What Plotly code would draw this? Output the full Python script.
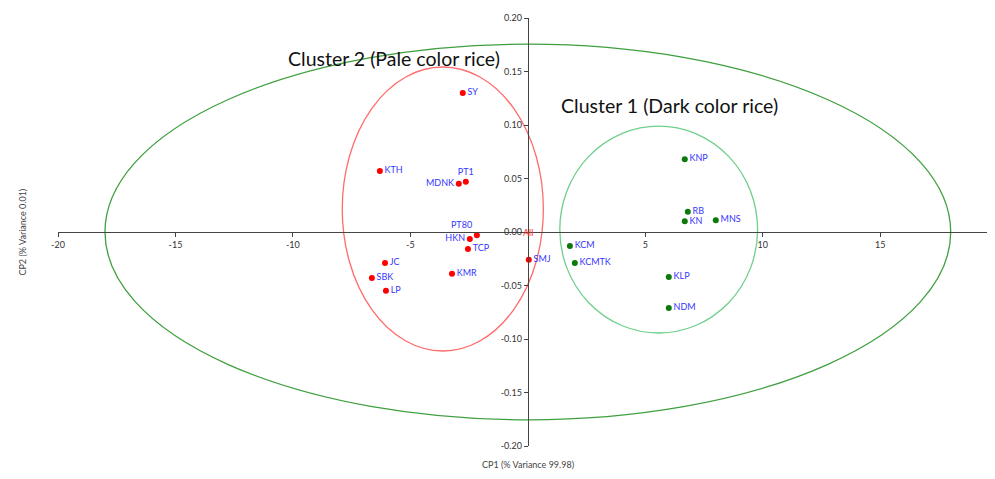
import plotly.graph_objects as go

# Cluster 2 (pale rice) - red points
red_names = ["SY", "KTH", "MDNK", "PT1", "PT80", "HKN", "TCP", "JC", "SBK", "LP", "KMR", "SMJ"]
red_x = [-2.77, -6.30, -2.94, -2.64, -2.17, -2.47, -2.55, -6.08, -6.64, -6.04, -3.23, 0.04]
red_y = [0.130, 0.057, 0.045, 0.047, -0.003, -0.0065, -0.016, -0.029, -0.043, -0.055, -0.039, -0.026]
red_pos = ["middle right", "middle right", "middle left", "top center", "top left", "middle left",
           "middle right", "middle right", "middle right", "middle right", "middle right", "middle right"]

# Cluster 1 (dark rice) - green points
green_names = ["KNP", "RB", "KN", "MNS", "KCM", "KCMTK", "KLP", "NDM"]
green_x = [6.68, 6.81, 6.68, 8.0, 1.79, 2.0, 6.0, 6.0]
green_y = [0.068, 0.019, 0.010, 0.011, -0.013, -0.029, -0.042, -0.071]

# Ellipses: centre x, centre y, semi-axis x, semi-axis y
ell_cx = [0.0, -3.62, 5.57]
ell_cy = [0.0, 0.0215, 0.0023]
ell_ax = [18.0, 4.28, 4.21]
ell_ay = [0.1755, 0.1327, 0.0967]
ell_col = ["#3f9f3f", "#ff6b6b", "#6fcf8a"]

x_ticks = [-20, -15, -10, -5, 5, 10, 15]
y_ticks = [-0.20, -0.15, -0.10, -0.05, 0.00, 0.05, 0.10, 0.15, 0.20]

x_range = [-20, 19.8]
y_range = [-0.2, 0.2]

label_font = dict(family="Lato, sans-serif", size=9, color="#3535ff")

fig = go.Figure()
fig.add_trace(go.Scatter(
    x=red_x, y=red_y, text=red_names, mode="markers+text", textposition=red_pos,
    marker=dict(color="#ff0000", size=6), textfont=label_font, cliponaxis=False,
    showlegend=False, hoverinfo="text"))
fig.add_trace(go.Scatter(
    x=green_x, y=green_y, text=green_names, mode="markers+text", textposition="middle right",
    marker=dict(color="#0a7a0a", size=6), textfont=label_font, cliponaxis=False,
    showlegend=False, hoverinfo="text"))

shapes = []
for cx, cy, ax, ay, col in zip(ell_cx, ell_cy, ell_ax, ell_ay, ell_col):
    shapes.append(dict(type="circle", xref="x", yref="y",
                       x0=cx - ax, x1=cx + ax, y0=cy - ay, y1=cy + ay,
                       line=dict(color=col, width=1.3), layer="below"))

y_pos = (0 - x_range[0]) / (x_range[1] - x_range[0])

fig.update_layout(
    width=987, height=471,
    margin=dict(l=50, r=2, t=10, b=33),
    plot_bgcolor="white", paper_bgcolor="white",
    shapes=shapes,
    xaxis=dict(range=x_range, anchor="free", position=0.5, showgrid=False, zeroline=False,
               automargin=False,
               showline=True, linecolor="#444444", linewidth=1.3,
               tickvals=x_ticks, ticktext=[str(v) for v in x_ticks],
               ticks="outside", ticklen=4, tickcolor="#444444",
               tickfont=dict(family="Lato, sans-serif", size=9, color="#333333")),
    yaxis=dict(range=y_range, anchor="free", position=y_pos, showgrid=False, zeroline=False,
               automargin=False,
               showline=True, linecolor="#444444", linewidth=1.3,
               tickvals=y_ticks, ticktext=[f"{v:.2f}" for v in y_ticks],
               ticks="outside", ticklen=4, tickcolor="#444444",
               tickfont=dict(family="Lato, sans-serif", size=9, color="#333333")),
    annotations=[
        dict(text="Cluster 2 (Pale color rice)", x=-5.7, y=0.1626, xref="x", yref="y",
             showarrow=False, font=dict(family="Lato, sans-serif", size=19.5, color="#111111")),
        dict(text="Cluster 1 (Dark color rice)", x=6.04, y=0.1178, xref="x", yref="y",
             showarrow=False, font=dict(family="Lato, sans-serif", size=19.5, color="#111111")),
        dict(text="All", x=0, y=0, xref="x", yref="y", showarrow=False,
             font=dict(family="Lato, sans-serif", size=9, color="#ff3030")),
        dict(text="CP1 (% Variance 99.98)", x=y_pos, y=-0.061, xref="paper", yref="paper",
             showarrow=False, font=dict(family="Lato, sans-serif", size=9, color="#444444")),
        dict(text="CP2 (% Variance 0.01)", x=-0.047, y=0.5, xref="paper", yref="paper",
             textangle=-90, showarrow=False,
             font=dict(family="Lato, sans-serif", size=9, color="#444444")),
    ],
)

fig.write_html("out.html")
